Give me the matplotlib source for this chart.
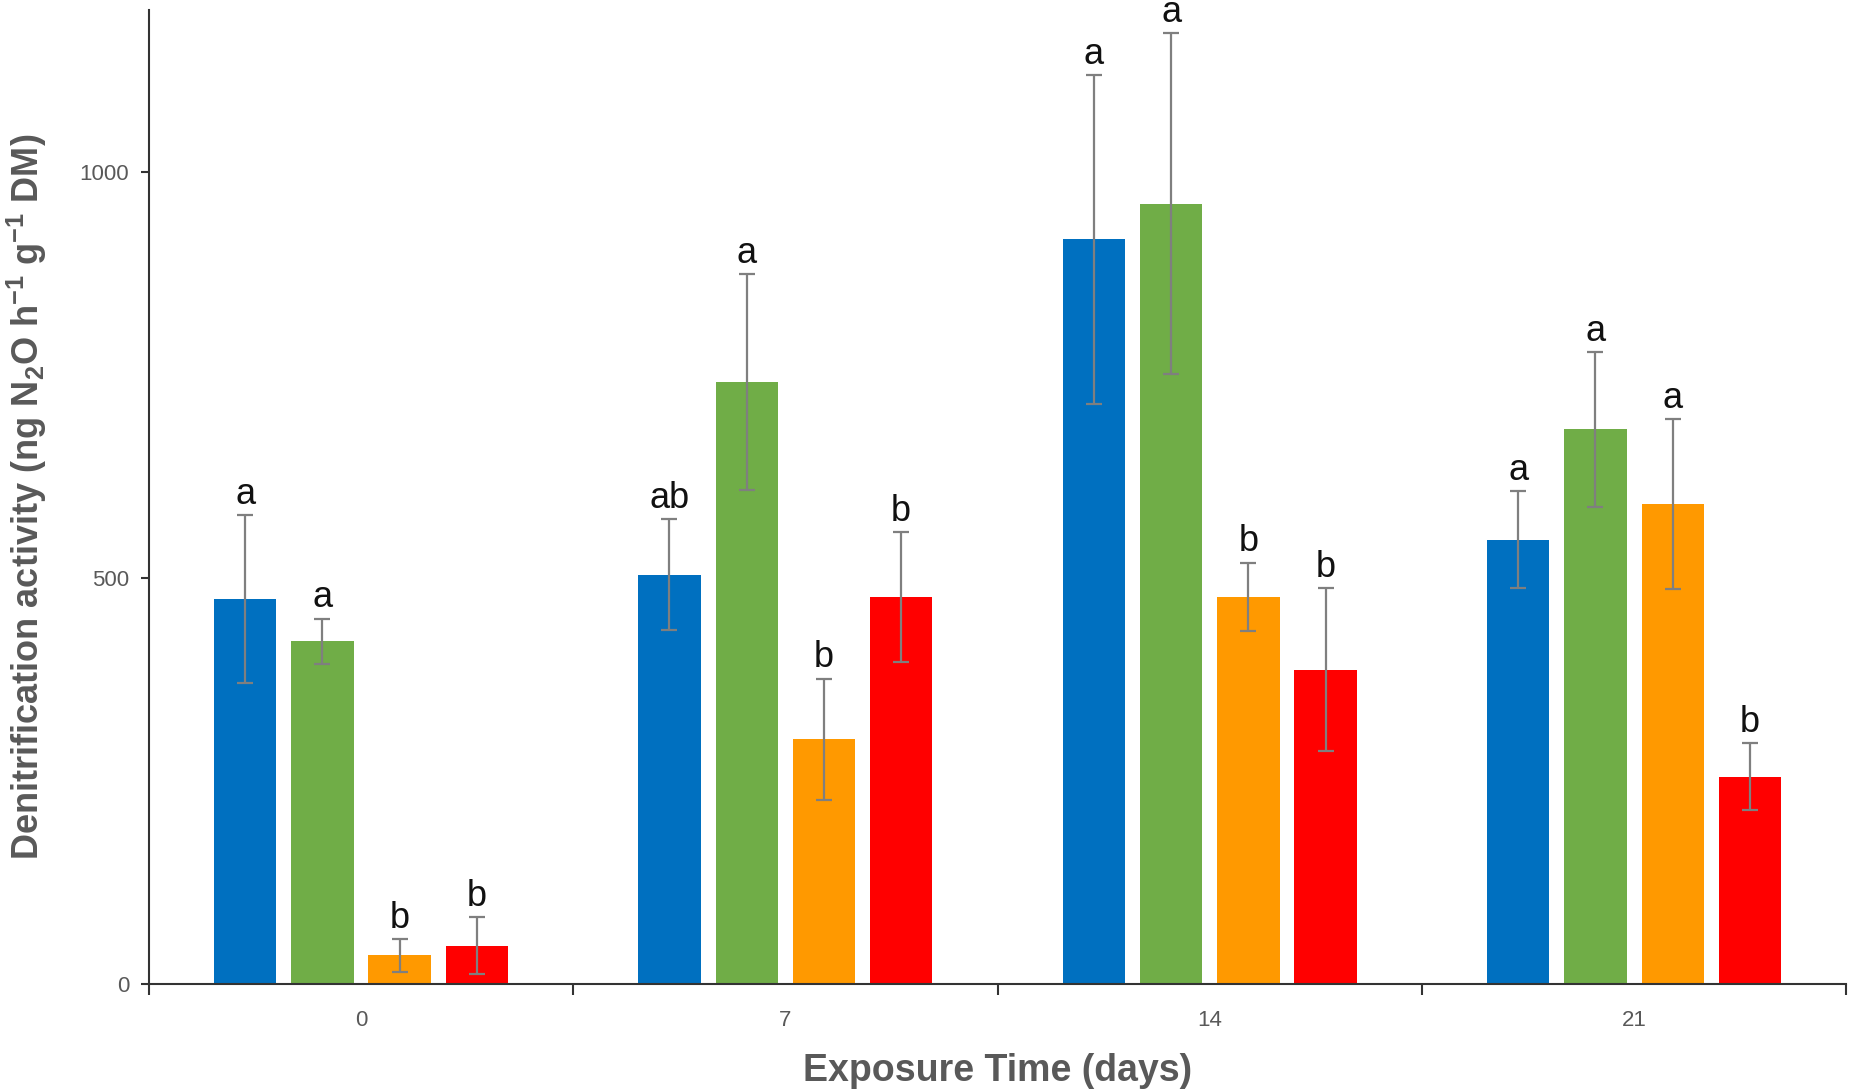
import matplotlib
matplotlib.use("Agg")
import matplotlib.pyplot as plt
import numpy as np

days = ["0", "7", "14", "21"]
series_colors = ["#0070C0", "#70AD47", "#FF9900", "#FF0000"]

blue = [474, 504, 917, 547]
green = [422, 741, 961, 683]
orange = [35, 301, 477, 591]
red = [47, 477, 387, 255]

blue_err = [103, 68, 203, 60]
green_err = [28, 133, 210, 95]
orange_err = [20, 75, 42, 105]
red_err = [35, 80, 100, 41]

blue_let = ["a", "ab", "a", "a"]
green_let = ["a", "a", "a", "a"]
orange_let = ["b", "b", "b", "a"]
red_let = ["b", "b", "b", "b"]

values = [blue, green, orange, red]
errors = [blue_err, green_err, orange_err, red_err]
letters = [blue_let, green_let, orange_let, red_let]

plt.rcParams['font.family'] = ['Liberation Sans', 'DejaVu Sans']

fig = plt.figure(figsize=(18.5, 10.9), dpi=100)
ax = fig.add_axes([0.0804, 0.0975, 0.9176, 0.8935])

x = np.arange(len(days))
width = 0.147
step = 0.182
offsets = (np.arange(4) - 1.5) * step

for i in range(4):
    xs = x + offsets[i]
    ax.bar(xs, values[i], width=width, color=series_colors[i], zorder=2)
    ax.errorbar(xs, values[i], yerr=errors[i], fmt='none', ecolor='#7F7F7F',
                elinewidth=1.6, capsize=6, capthick=1.6, zorder=3)
    for j in range(len(days)):
        top = values[i][j] + errors[i][j]
        ax.annotate(letters[i][j], xy=(xs[j], top), xytext=(0, 8),
                    textcoords='offset points', ha='center', va='baseline',
                    fontsize=26, color='#111111')

ax.set_xlim(-0.5, 3.5)
ax.set_ylim(0, 1200)
ax.set_yticks([0, 500, 1000])
ax.set_xticks(x)
ax.set_xticklabels(days)
ax.set_xticks(np.arange(-0.5, 4.0, 1.0), minor=True)
ax.tick_params(axis='x', which='major', length=0, pad=19, labelsize=16, labelcolor='#595959')
ax.tick_params(axis='x', which='minor', length=8, width=1.5, color='#333333', direction='out')
ax.tick_params(axis='y', length=6, width=1.5, color='#333333', labelsize=16,
               labelcolor='#595959', pad=8)

for s in ['top', 'right']:
    ax.spines[s].set_visible(False)
for s in ['left', 'bottom']:
    ax.spines[s].set_color('#333333')
    ax.spines[s].set_linewidth(1.5)

ax.set_xlabel("Exposure Time (days)", fontsize=27, fontweight='bold', color='#595959', labelpad=16)
ax.set_ylabel("Denitrification activity (ng N$_\\mathregular{2}$O h$^\\mathregular{-1}$ g$^\\mathregular{-1}$ DM)",
              fontsize=26, fontweight='bold', color='#595959', labelpad=22)

fig.savefig("out.png", dpi=100)
